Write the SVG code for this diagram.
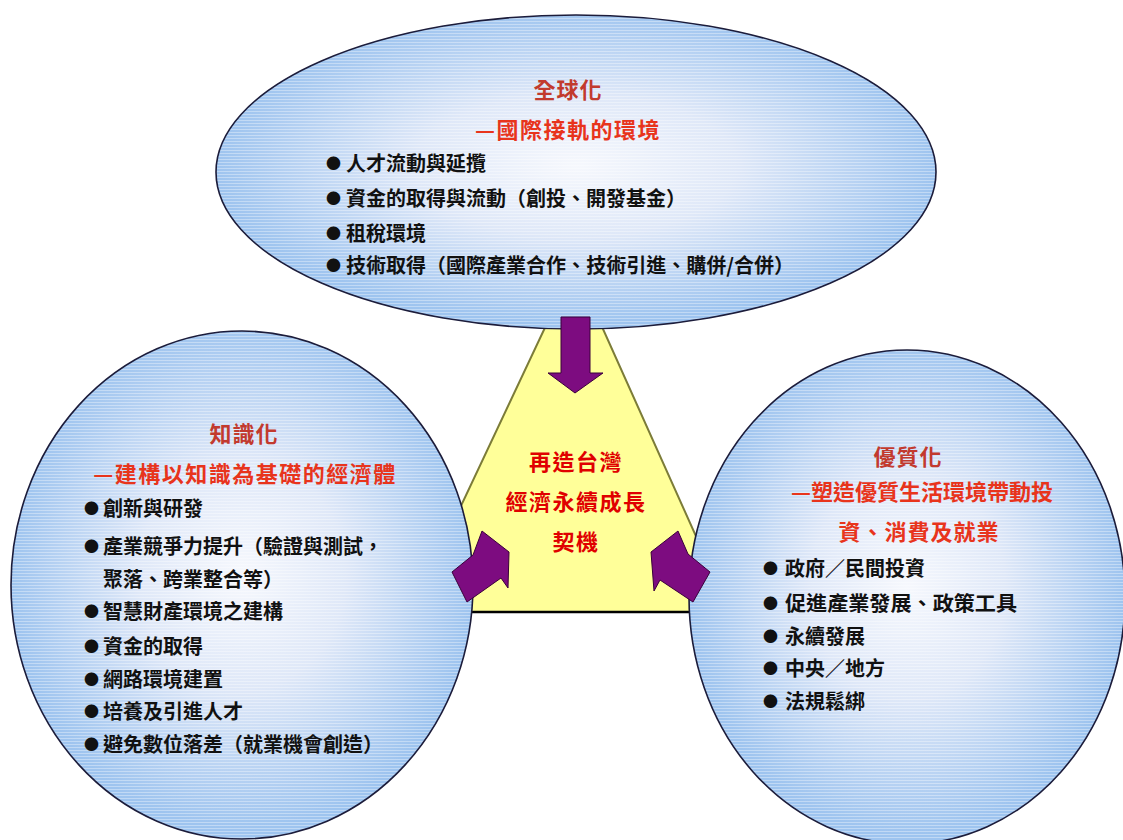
<svg xmlns="http://www.w3.org/2000/svg" width="1123" height="840" viewBox="0 0 1123 840">
<defs>
<radialGradient id="blueFill" cx="50%" cy="48%" r="50%">
<stop offset="0" stop-color="#f6f8fd"/>
<stop offset="0.45" stop-color="#dfe8f8"/>
<stop offset="1" stop-color="#9ec4ef"/>
</radialGradient>
<pattern id="stripes" width="6" height="3" patternUnits="userSpaceOnUse">
<rect x="0" y="0" width="6" height="1" fill="#ffffff" opacity="0.35"/>
</pattern>
</defs>
<style>
.ell{fill:url(#blueFill);stroke:#1c1c3a;stroke-width:1.6}
.tex{fill:url(#stripes);stroke:none}
text{font-family:"Noto Sans CJK TC","Noto Sans CJK SC",sans-serif;font-weight:bold;dominant-baseline:central}
.title{font-size:22px;fill:#c23a2e;text-anchor:middle;letter-spacing:1px}
.sub{font-size:22px;fill:#e8341c;text-anchor:middle;letter-spacing:1.5px}
.body{font-size:20px;fill:#111111}
.bul{font-size:15px}
.ctr{font-size:22px;fill:#e00000;text-anchor:middle;letter-spacing:1.5px}
.arrow{fill:#7d0c80;stroke:#3a003a;stroke-width:1}
</style>
<rect x="0" y="0" width="1123" height="840" fill="#ffffff"/>

<g id="center">
<polygon points="558,300 590,300 730,612 411,612" fill="#ffff99" stroke="#7c7c38" stroke-width="2"/>
<line x1="440" y1="612" x2="720" y2="612" stroke="#000000" stroke-width="2.5"/>
<text class="ctr" x="576" y="460">再造台灣</text>
<text class="ctr" x="576" y="500">經濟永續成長</text>
<text class="ctr" x="576" y="540">契機</text>
</g>

<g id="top">
<ellipse class="ell" cx="576" cy="172" rx="360" ry="157"/>
<ellipse class="tex" cx="576" cy="172" rx="359" ry="156"/>
<text class="title" x="568" y="88">全球化</text>
<text class="sub" x="568" y="128">—國際接軌的環境</text>
<text class="body" y="162"><tspan class="bul" x="326">●</tspan><tspan x="346">人才流動與延攬</tspan></text>
<text class="body" y="197"><tspan class="bul" x="326">●</tspan><tspan x="346">資金的取得與流動（創投、開發基金）</tspan></text>
<text class="body" y="232"><tspan class="bul" x="326">●</tspan><tspan x="346">租稅環境</tspan></text>
<text class="body" y="264"><tspan class="bul" x="326">●</tspan><tspan x="346" textLength="448" lengthAdjust="spacingAndGlyphs">技術取得（國際產業合作、技術引進、購併/合併）</tspan></text>
</g>

<g id="left">
<ellipse class="ell" cx="242" cy="585" rx="231" ry="254"/>
<ellipse class="tex" cx="242" cy="585" rx="230" ry="253"/>
<text class="title" x="244" y="432">知識化</text>
<text class="sub" x="245" y="472">—建構以知識為基礎的經濟體</text>
<text class="body" y="507"><tspan class="bul" x="84">●</tspan><tspan x="103">創新與研發</tspan></text>
<text class="body" y="545"><tspan class="bul" x="84">●</tspan><tspan x="103">產業競爭力提升（驗證與測試，</tspan></text>
<text class="body" y="578"><tspan x="103">聚落、跨業整合等）</tspan></text>
<text class="body" y="610"><tspan class="bul" x="84">●</tspan><tspan x="103">智慧財產環境之建構</tspan></text>
<text class="body" y="645"><tspan class="bul" x="84">●</tspan><tspan x="103">資金的取得</tspan></text>
<text class="body" y="678"><tspan class="bul" x="84">●</tspan><tspan x="103">網路環境建置</tspan></text>
<text class="body" y="710"><tspan class="bul" x="84">●</tspan><tspan x="103">培養及引進人才</tspan></text>
<text class="body" y="743"><tspan class="bul" x="84">●</tspan><tspan x="103">避免數位落差（就業機會創造）</tspan></text>
</g>

<g id="right">
<ellipse class="ell" cx="907" cy="597" rx="218" ry="247"/>
<ellipse class="tex" cx="907" cy="597" rx="217" ry="246"/>
<text class="title" x="908" y="455">優質化</text>
<text class="sub" x="922" y="490" style="letter-spacing:0px">—塑造優質生活環境帶動投</text>
<text class="sub" x="919" y="530" style="letter-spacing:1px">資、消費及就業</text>
<text class="body" y="567"><tspan class="bul" x="763">●</tspan><tspan x="785">政府／民間投資</tspan></text>
<text class="body" y="602"><tspan class="bul" x="763">●</tspan><tspan x="785" textLength="232" lengthAdjust="spacingAndGlyphs">促進產業發展、政策工具</tspan></text>
<text class="body" y="635"><tspan class="bul" x="763">●</tspan><tspan x="785">永續發展</tspan></text>
<text class="body" y="667"><tspan class="bul" x="763">●</tspan><tspan x="785">中央／地方</tspan></text>
<text class="body" y="700"><tspan class="bul" x="763">●</tspan><tspan x="785">法規鬆綁</tspan></text>
</g>

<g id="connectors">
<polygon class="arrow" points="561,317 590,317 590,373 603,373 575,393 548,373 561,373"/>
<polygon class="arrow" points="452,572 473,555 482,531 509,552 508,588 501,578 467,602"/>
<polygon class="arrow" points="710,572 688,554 678,531 651,552 654,591 660,580 693,602"/>
</g>
</svg>
